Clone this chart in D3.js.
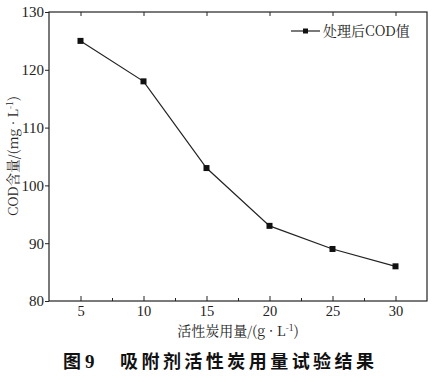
<!DOCTYPE html>
<html><head><meta charset="utf-8">
<script src="https://cdn.jsdelivr.net/npm/d3@7/dist/d3.min.js"></script>
<style>body{margin:0;background:#fff}svg{display:block}</style>
</head><body>
<script>
const dosage = [5, 10, 15, 20, 25, 30];
const codValues = [125, 118, 103, 93, 89, 86];
const xTicks = [5, 10, 15, 20, 25, 30];
const xMinorTicks = [7.5, 12.5, 17.5, 22.5, 27.5];
const yTicks = [80, 90, 100, 110, 120, 130];
const seriesName = "处理后COD值";
const xTitle = "活性炭用量/(g · L";
const yTitle = "COD含量/(mg · L";
const figLabel = "图";
const figNum = "9";
const caption = "吸附剂活性炭用量试验结果";

const W = 446, H = 382;
const L = 49, R = 427, T = 12, B = 301;
const svg = d3.select("body").append("svg").attr("width", W).attr("height", H);
const x = d3.scaleLinear().domain([2.5, 32.5]).range([L, R]);
const y = d3.scaleLinear().domain([80, 130]).range([B, T]);
const serif = "'Liberation Serif','Times New Roman',serif";
const cjk = "'Noto Serif CJK SC','Noto Sans CJK SC',serif";
const col = "#222";

// frame
svg.append("rect").attr("x", L).attr("y", T).attr("width", R - L).attr("height", B - T)
  .attr("fill", "none").attr("stroke", col).attr("stroke-width", 1.2);

// bottom axis: inward ticks
const bx = svg.append("g").attr("transform", `translate(0,${B})`)
  .call(d3.axisBottom(x).tickValues(xTicks).tickSize(-5).tickPadding(5));
bx.select(".domain").remove();
bx.selectAll("line").attr("stroke", col);
bx.selectAll("text").attr("font-family", serif).attr("font-size", 14.5).attr("fill", col);
const bm = svg.append("g").attr("transform", `translate(0,${B})`)
  .call(d3.axisBottom(x).tickValues(xMinorTicks).tickSize(-3).tickFormat(""));
bm.select(".domain").remove(); bm.selectAll("line").attr("stroke", col);
// top mirrored ticks
const tx = svg.append("g").attr("transform", `translate(0,${T})`)
  .call(d3.axisTop(x).tickValues(xTicks).tickSize(-4).tickFormat(""));
tx.select(".domain").remove(); tx.selectAll("line").attr("stroke", col);

// left axis: outward ticks
const ly = svg.append("g").attr("transform", `translate(${L},0)`)
  .call(d3.axisLeft(y).tickValues(yTicks).tickSize(4).tickPadding(1));
ly.select(".domain").remove();
ly.selectAll("line").attr("stroke", col);
ly.selectAll("text").attr("font-family", serif).attr("font-size", 15).attr("fill", col);

// line & markers
const line = d3.line().x((d, i) => x(dosage[i])).y(d => y(d));
svg.append("path").datum(codValues).attr("d", line)
  .attr("fill", "none").attr("stroke", col).attr("stroke-width", 1.2);
svg.selectAll(".pt").data(codValues).enter().append("rect")
  .attr("x", (d, i) => x(dosage[i]) - 3).attr("y", d => y(d) - 3)
  .attr("width", 6).attr("height", 6).attr("fill", "#111");

// legend
const lgY = 31;
svg.append("line").attr("x1", 291).attr("x2", 320).attr("y1", lgY).attr("y2", lgY)
  .attr("stroke", col).attr("stroke-width", 1.2);
svg.append("rect").attr("x", 303).attr("y", lgY - 2.5).attr("width", 5).attr("height", 5).attr("fill", "#111");
svg.append("text").attr("x", 323).attr("y", lgY + 5).attr("font-family", cjk)
  .attr("font-size", 14).attr("fill", col).text(seriesName);

// axis titles
const xt = svg.append("text").attr("x", 238).attr("y", 336).attr("text-anchor", "middle")
  .attr("font-family", cjk).attr("font-size", 14).attr("fill", col).attr("xml:space", "preserve");
xt.append("tspan").text(xTitle);
xt.append("tspan").attr("font-size", 9).attr("dy", -5).text("-1");
xt.append("tspan").attr("dy", 5).text(")");

const yt = svg.append("text").attr("transform", "translate(18,156) rotate(-90)")
  .attr("text-anchor", "middle").attr("font-family", cjk).attr("font-size", 13.5).attr("fill", col)
  .attr("xml:space", "preserve");
yt.append("tspan").text(yTitle);
yt.append("tspan").attr("font-size", 9).attr("dy", -5).text("-1");
yt.append("tspan").attr("dy", 5).text(")");

// caption
const capFont = "'Noto Sans CJK SC',sans-serif";
svg.append("text").attr("x", 63).attr("y", 368).attr("font-family", capFont)
  .attr("font-weight", "bold").attr("font-size", 18).attr("fill", "#111").text(figLabel);
svg.append("text").attr("x", 85).attr("y", 368).attr("font-family", serif)
  .attr("font-weight", "bold").attr("font-size", 19).attr("fill", "#111").text(figNum);
svg.append("text").attr("x", 120).attr("y", 368).attr("font-family", capFont)
  .attr("font-weight", "bold").attr("font-size", 18)
  .attr("textLength", 254).attr("lengthAdjust", "spacing").attr("fill", "#111").text(caption);
</script>
</body></html>
